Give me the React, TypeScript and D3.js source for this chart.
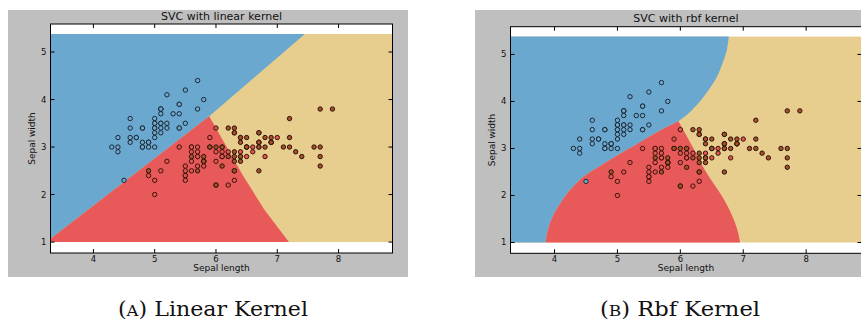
import React, { useEffect, useRef } from "react";
import * as d3 from "d3";

// iris, sepal length / sepal width for each class
const setosaLength = [
  5.1, 4.9, 4.7, 4.6, 5.0, 5.4, 4.6, 5.0, 4.4, 4.9, 5.4, 4.8, 4.8, 4.3, 5.8, 5.7, 5.4, 5.1, 5.7, 5.1, 5.4, 5.1, 4.6, 5.1, 4.8,
  5.0, 5.0, 5.2, 5.2, 4.7, 4.8, 5.4, 5.2, 5.5, 4.9, 5.0, 5.5, 4.9, 4.4, 5.1, 5.0, 4.5, 4.4, 5.0, 5.1, 4.8, 5.1, 4.6, 5.3, 5.0,
];
const setosaWidth = [
  3.5, 3.0, 3.2, 3.1, 3.6, 3.9, 3.4, 3.4, 2.9, 3.1, 3.7, 3.4, 3.0, 3.0, 4.0, 4.4, 3.9, 3.5, 3.8, 3.8, 3.4, 3.7, 3.6, 3.3, 3.4,
  3.0, 3.4, 3.5, 3.4, 3.2, 3.1, 3.4, 4.1, 4.2, 3.1, 3.2, 3.5, 3.1, 3.0, 3.4, 3.5, 2.3, 3.2, 3.5, 3.8, 3.0, 3.8, 3.2, 3.7, 3.3,
];
const versicolorLength = [
  7.0, 6.4, 6.9, 5.5, 6.5, 5.7, 6.3, 4.9, 6.6, 5.2, 5.0, 5.9, 6.0, 6.1, 5.6, 6.7, 5.6, 5.8, 6.2, 5.6, 5.9, 6.1, 6.3, 6.1, 6.4,
  6.6, 6.8, 6.7, 6.0, 5.7, 5.5, 5.5, 5.8, 6.0, 5.4, 6.0, 6.7, 6.3, 5.6, 5.5, 5.5, 6.1, 5.8, 5.0, 5.6, 5.7, 5.7, 6.2, 5.1, 5.7,
];
const versicolorWidth = [
  3.2, 3.2, 3.1, 2.3, 2.8, 2.8, 3.3, 2.4, 2.9, 2.7, 2.0, 3.0, 2.2, 2.9, 2.9, 3.1, 3.0, 2.7, 2.2, 2.5, 3.2, 2.8, 2.5, 2.8, 2.9,
  3.0, 2.8, 3.0, 2.9, 2.6, 2.4, 2.4, 2.7, 2.7, 3.0, 3.4, 3.1, 2.3, 3.0, 2.5, 2.6, 3.0, 2.6, 2.3, 2.7, 3.0, 2.9, 2.9, 2.5, 2.8,
];
const virginicaLength = [
  6.3, 5.8, 7.1, 6.3, 6.5, 7.6, 4.9, 7.3, 6.7, 7.2, 6.5, 6.4, 6.8, 5.7, 5.8, 6.4, 6.5, 7.7, 7.7, 6.0, 6.9, 5.6, 7.7, 6.3, 6.7,
  7.2, 6.2, 6.1, 6.4, 7.2, 7.4, 7.9, 6.4, 6.3, 6.1, 7.7, 6.3, 6.4, 6.0, 6.9, 6.7, 6.9, 5.8, 6.8, 6.7, 6.7, 6.3, 6.5, 6.2, 5.9,
];
const virginicaWidth = [
  3.3, 2.7, 3.0, 2.9, 3.0, 3.0, 2.5, 2.9, 2.5, 3.6, 3.2, 2.7, 3.0, 2.5, 2.8, 3.2, 3.0, 3.8, 2.6, 2.2, 3.2, 2.8, 2.8, 2.7, 3.3,
  3.2, 2.8, 3.0, 2.8, 3.0, 2.8, 3.8, 2.8, 2.8, 2.6, 3.0, 3.4, 3.1, 3.0, 3.1, 3.1, 3.1, 2.7, 3.2, 3.3, 3.0, 2.5, 3.0, 3.4, 3.0,
];

const xTicks = [4, 5, 6, 7, 8];
const yTicks = [1, 2, 3, 4, 5];
const xDomain = [3.3, 8.88];
const yDomain = [0.77, 5.59];
// extent of the decision mesh
const meshX = [3.3, 8.88];
const meshY = [1.0, 5.38];

// boundaries, [sepal length, sepal width]
const linBlueRed = [[3.3, 1.07], [5.89, 3.65]];
const linBlueTan = [[5.89, 3.65], [7.45, 5.38]];
const linRedTan = [[5.89, 3.65], [6.14, 3.08], [6.44, 2.4], [6.79, 1.68], [7.19, 1.0]];

const rbfBlueRed = [
  [3.86, 1.0], [3.89, 1.25], [3.97, 1.55], [4.1, 1.85], [4.25, 2.12], [4.46, 2.4], [4.75, 2.65], [5.15, 2.97], [5.7, 3.4], [5.97, 3.58],
];
const rbfBlueTan = [[5.97, 3.58], [6.15, 3.77], [6.37, 4.1], [6.58, 4.52], [6.68, 4.85], [6.74, 5.1], [6.77, 5.38]];
const rbfRedTan = [
  [5.97, 3.58], [6.05, 3.39], [6.21, 3.0], [6.34, 2.66], [6.48, 2.35], [6.63, 2.05], [6.76, 1.75], [6.86, 1.45], [6.92, 1.2], [6.95, 1.0],
];

const BLUE = "#6aa8cf";
const RED = "#e85a5a";
const TAN = "#e8ce8e";

const panels = [
  {
    bg: [8, 10, 400, 267], left: 50.5, right: 392.5, top: 24, bottom: 253,
    title: "SVC with linear kernel", letter: "A", caption: " Linear Kernel", capX: 213, capW: 190, ylabX: 34.5,
    smooth: false, blueRed: linBlueRed, blueTan: linBlueTan, redTan: linRedTan,
  },
  {
    bg: [475, 10, 420, 267], left: 510.5, right: 861.5, top: 26.7, bottom: 253.3,
    title: "SVC with rbf kernel", letter: "B", caption: " Rbf Kernel", capX: 680, capW: 160, ylabX: 494.5,
    smooth: true, blueRed: rbfBlueRed, blueTan: rbfBlueTan, redTan: rbfRedTan,
  },
];

function App() {
  const ref = useRef(null);

  useEffect(() => {
    const svg = d3.select(ref.current);
    svg.selectAll("*").remove();

    panels.forEach((p) => {
      const x = d3.scaleLinear().domain(xDomain).range([p.left, p.right]);
      const y = d3.scaleLinear().domain(yDomain).range([p.bottom, p.top]);
      const g = svg.append("g");

      g.append("rect")
        .attr("x", p.bg[0]).attr("y", p.bg[1]).attr("width", p.bg[2]).attr("height", p.bg[3])
        .attr("fill", "#bfbfbf");
      g.append("rect")
        .attr("x", p.left).attr("y", p.top).attr("width", p.right - p.left).attr("height", p.bottom - p.top)
        .attr("fill", "#fff");

      // tan is the background of the mesh, blue and red drawn over it
      g.append("rect")
        .attr("x", x(meshX[0])).attr("y", y(meshY[1]))
        .attr("width", x(meshX[1]) - x(meshX[0])).attr("height", y(meshY[0]) - y(meshY[1]))
        .attr("fill", TAN);

      // smooth only the boundary pieces, corners of the mesh stay straight
      const seg = (pts, first, curved) => {
        const s = d3.line()
          .x((d) => x(d[0]))
          .y((d) => y(d[1]))
          .curve(curved ? d3.curveCatmullRom.alpha(0.5) : d3.curveLinear)(pts);
        return first ? s : s.replace(/^M/, "L");
      };

      const bluePath =
        seg([[meshX[0], meshY[1]], [meshX[0], p.blueRed[0][1]], p.blueRed[0]], true, false) +
        seg(p.blueRed, false, p.smooth) + seg(p.blueTan, false, p.smooth) +
        seg([p.blueTan[p.blueTan.length - 1], [meshX[0], meshY[1]]], false, false) + "Z";
      g.append("path").attr("d", bluePath).attr("fill", BLUE);

      const redPath =
        seg([[p.blueRed[0][0], meshY[0]], p.blueRed[0]], true, false) +
        seg(p.blueRed, false, p.smooth) + seg(p.redTan, false, p.smooth) + "Z";
      g.append("path").attr("d", redPath).attr("fill", RED);

      const groups = [
        { xs: setosaLength, ys: setosaWidth, fill: "#6fa9d0", stroke: "#1c2633" },
        { xs: versicolorLength, ys: versicolorWidth, fill: "#e4574e", stroke: "#3a1210" },
        { xs: virginicaLength, ys: virginicaWidth, fill: "#a8502a", stroke: "#2b140a" },
      ];
      groups.forEach((c) => {
        g.append("g")
          .selectAll("circle")
          .data(c.xs.map((v, i) => [v, c.ys[i]]))
          .enter()
          .append("circle")
          .attr("cx", (d) => x(d[0]))
          .attr("cy", (d) => y(d[1]))
          .attr("r", 2.2)
          .attr("fill", c.fill)
          .attr("stroke", c.stroke)
          .attr("stroke-width", 1);
      });

      g.append("rect")
        .attr("x", p.left).attr("y", p.top).attr("width", p.right - p.left).attr("height", p.bottom - p.top)
        .attr("fill", "none").attr("stroke", "#000").attr("stroke-width", 1);

      const ticks = g.append("g").attr("stroke", "#000").attr("stroke-width", 1);
      xTicks.forEach((t) => {
        ticks.append("line").attr("x1", x(t)).attr("x2", x(t)).attr("y1", p.bottom).attr("y2", p.bottom - 4);
        ticks.append("line").attr("x1", x(t)).attr("x2", x(t)).attr("y1", p.top).attr("y2", p.top + 4);
      });
      yTicks.forEach((t) => {
        ticks.append("line").attr("x1", p.left).attr("x2", p.left + 4).attr("y1", y(t)).attr("y2", y(t));
        ticks.append("line").attr("x1", p.right).attr("x2", p.right - 4).attr("y1", y(t)).attr("y2", y(t));
      });

      const font = "'DejaVu Sans', sans-serif";
      g.append("g")
        .selectAll("text")
        .data(xTicks)
        .enter()
        .append("text")
        .attr("x", (d) => x(d))
        .attr("y", p.bottom + 9)
        .attr("text-anchor", "middle")
        .style("font", `8.5px ${font}`)
        .attr("fill", "#111")
        .text((d) => d);
      g.append("g")
        .selectAll("text")
        .data(yTicks)
        .enter()
        .append("text")
        .attr("x", p.left - 4)
        .attr("y", (d) => y(d) + 3)
        .attr("text-anchor", "end")
        .style("font", `8.5px ${font}`)
        .attr("fill", "#111")
        .text((d) => d);

      const cx = (p.left + p.right) / 2;
      g.append("text")
        .attr("x", cx).attr("y", p.top - 4.5)
        .attr("text-anchor", "middle")
        .style("font", `11px ${font}`)
        .attr("fill", "#111")
        .text(p.title);
      g.append("text")
        .attr("x", cx).attr("y", 271)
        .attr("text-anchor", "middle")
        .style("font", `9px ${font}`)
        .attr("fill", "#111")
        .text("Sepal length");
      g.append("text")
        .attr("transform", `translate(${p.ylabX},${(p.top + p.bottom) / 2}) rotate(-90)`)
        .attr("text-anchor", "middle")
        .style("font", `9px ${font}`)
        .attr("fill", "#111")
        .text("Sepal width");

      const cap = svg.append("text")
        .attr("x", p.capX).attr("y", 316)
        .attr("text-anchor", "middle")
        .attr("textLength", p.capW)
        .attr("lengthAdjust", "spacingAndGlyphs")
        .style("font", "20px 'DejaVu Serif', serif")
        .attr("fill", "#111");
      cap.append("tspan").text("(");
      cap.append("tspan").style("font-size", "15px").text(p.letter);
      cap.append("tspan").text(")" + p.caption);
    });
  }, []);

  return (
    <svg
      ref={ref}
      width={861}
      height={322}
      style={{ position: "absolute", left: 0, top: 0, background: "#fff" }}
    />
  );
}

export default App;
